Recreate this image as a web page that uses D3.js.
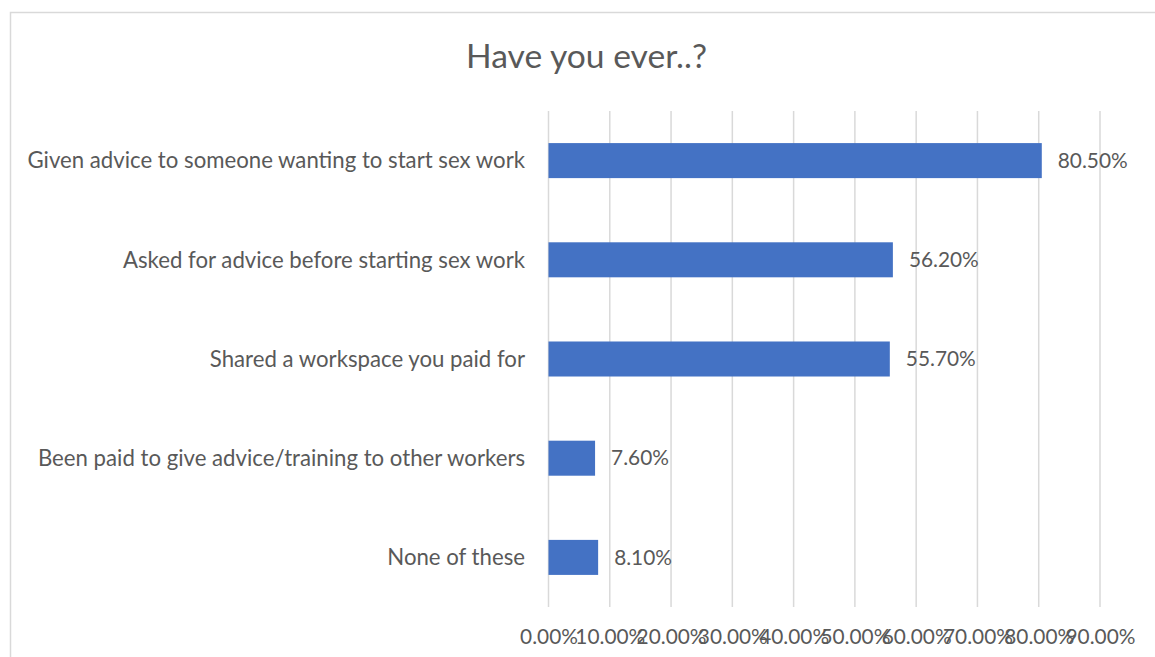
<!DOCTYPE html>
<html>
<head>
<meta charset="utf-8">
<script src="https://cdn.jsdelivr.net/npm/d3@7"></script>
<style>
  html, body { margin: 0; padding: 0; background: #fff; }
  svg { display: block; }
  text { font-family: Lato, "Open Sans", sans-serif; fill: #595959; }
</style>
</head>
<body>
<svg id="chart" width="1155" height="657"></svg>
<script>
// Survey responses, one bar per answer
const categories = [
  "Given advice to someone wanting to start sex work",
  "Asked for advice before starting sex work",
  "Shared a workspace you paid for",
  "Been paid to give advice/training to other workers",
  "None of these"
];
const values = [80.5, 56.2, 55.7, 7.6, 8.1];
const tickValues = [0, 10, 20, 30, 40, 50, 60, 70, 80, 90];
const tickLabels = ["0.00%", "10.00%", "20.00%", "30.00%", "40.00%", "50.00%", "60.00%", "70.00%", "80.00%", "90.00%"];
const title = "Have you ever..?";

const plot = { left: 548.5, right: 1100, top: 111, bottom: 607 };

const svg = d3.select("#chart");

// chart frame
svg.append("rect")
  .attr("x", 10.5).attr("y", 12.5)
  .attr("width", 1300).attr("height", 800)
  .attr("fill", "none").attr("stroke", "#d9d9d9").attr("stroke-width", 1.5);

const x = d3.scaleLinear().domain([0, 90]).range([plot.left, plot.right]);
const y = d3.scaleBand().domain(categories).range([plot.top, plot.bottom]).paddingInner(0.647).paddingOuter(0.3235);

// size a font so a reference string spans a given width
function fitSize(str, width, base) {
  const t = svg.append("text").attr("font-size", base).text(str);
  const w = t.node().getComputedTextLength();
  t.remove();
  return base * width / w;
}
const labelSize = fitSize(categories[0], 498, 20);
const titleSize = fitSize(title, 241, 30);
const valueSize = fitSize("80.50%", 70, 20);

// vertical gridlines
svg.append("g")
  .selectAll("line")
  .data(tickValues)
  .join("line")
  .attr("x1", d => x(d)).attr("x2", d => x(d))
  .attr("y1", plot.top).attr("y2", plot.bottom)
  .attr("stroke", "#d9d9d9").attr("stroke-width", 1.5);

// x tick labels
const xAxis = d3.axisBottom(x)
  .tickValues(tickValues)
  .tickFormat((d, i) => tickLabels[i])
  .tickSize(0)
  .tickPadding(0);
const xg = svg.append("g").attr("transform", `translate(0, 629)`).call(xAxis);
xg.select(".domain").remove();
xg.attr("font-family", null).attr("font-size", null);
xg.selectAll("text")
  .attr("font-size", valueSize)
  .attr("fill", "#595959")
  .attr("dy", "0.71em")
  .attr("y", 0);

// bars
svg.append("g")
  .selectAll("rect")
  .data(values)
  .join("rect")
  .attr("x", x(0))
  .attr("y", (d, i) => y(categories[i]))
  .attr("width", d => x(d) - x(0))
  .attr("height", y.bandwidth())
  .attr("fill", "#4472c4");

// value labels
svg.append("g")
  .selectAll("text")
  .data(values)
  .join("text")
  .attr("x", d => x(d) + 16)
  .attr("y", (d, i) => y(categories[i]) + y.bandwidth() / 2)
  .attr("dy", "0.35em")
  .attr("font-size", valueSize)
  .text(d => d.toFixed(2) + "%");

// category labels
svg.append("g")
  .selectAll("text")
  .data(categories)
  .join("text")
  .attr("x", 525)
  .attr("y", d => y(d) + y.bandwidth() / 2)
  .attr("dy", "0.35em")
  .attr("text-anchor", "end")
  .attr("font-size", labelSize)
  .text(d => d);

// title
svg.append("text")
  .attr("x", 586.5)
  .attr("y", 68)
  .attr("text-anchor", "middle")
  .attr("font-size", titleSize)
  .text(title);
</script>
</body>
</html>
